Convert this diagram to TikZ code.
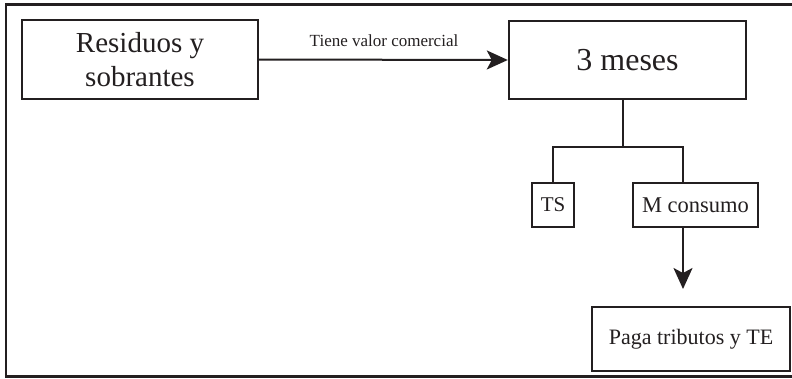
\documentclass[tikz,border=0pt]{standalone}
\usepackage{fontspec}
\setmainfont{Liberation Serif}
\usetikzlibrary{arrows.meta}
\definecolor{ink}{HTML}{231F20}
\tikzset{
  box/.style={draw=ink, line width=2.4pt, inner sep=0pt, text=ink, align=center},
  conn/.style={draw=ink, line width=2pt},
  tip/.style={-{Stealth[length=21pt,width=19pt,inset=5pt]}},
}
\begin{document}
\begin{tikzpicture}[x=1pt,y=-1pt]
\useasboundingbox (0,0) rectangle (792,378);
% outer frame (open on the right, cut by the page)
\draw[conn, line width=2.4pt] (800,4.5) -- (6,4.5) -- (6,376.5) -- (800,376.5);
% nodes
\node[box, minimum width=236pt, minimum height=79pt, font=\fontsize{29}{34}\selectfont] (res) at (140,59.5) {Residuos y\\sobrantes};
\node[box, minimum width=237pt, minimum height=78pt, font=\fontsize{32}{34}\selectfont] (mes) at (627.5,60) {3 meses};
\node[box, minimum width=42pt, minimum height=44pt, font=\fontsize{21}{24}\selectfont] (ts) at (553,205) {TS};
\node[box, minimum width=125pt, minimum height=44pt, font=\fontsize{22.5}{24}\selectfont] (mc) at (695.5,205) {M consumo};
\node[box, minimum width=198pt, minimum height=64pt, font=\fontsize{22}{24}\selectfont] (pt) at (691,339) {Paga tributos y TE};
\node[text=ink, font=\fontsize{17}{18}\selectfont, inner sep=0pt] (lbl) at (384,41) {Tiene valor comercial};
\coordinate (hub) at (623,147);
\coordinate (down) at (683,289);
% connectors
\draw[conn, tip] (res.east) -- (mes.west);
\draw[conn] (mes.south -| hub) -- (hub);
\draw[conn] (ts.north) |- (hub) -| (683,183);
\draw[conn, tip] (683,227) -- (down);
\end{tikzpicture}
\end{document}
